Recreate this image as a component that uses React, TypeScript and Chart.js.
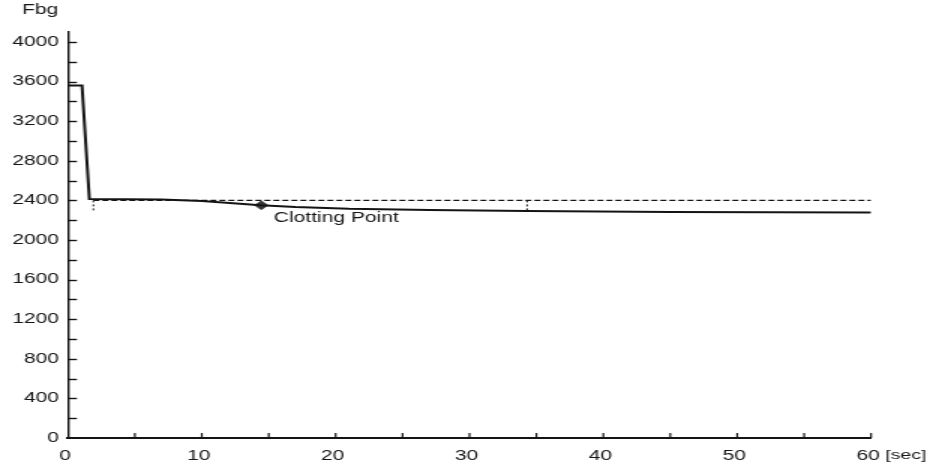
import { useEffect, useRef } from "react";
import { Chart, registerables } from "chart.js";

Chart.register(...registerables);

// Fibrinogen trace (sec, Fbg)
const traceTime = [0, 1.05, 1.6, 7, 10, 14.4, 17, 21, 27, 34.3, 45, 60];
const traceFbg = [3560, 3560, 2415, 2410, 2395, 2350, 2333, 2315, 2302, 2292, 2284, 2278];

// Dashed reference level and the two drop markers
const baselineFbg = 2400;
const baselineStart = 1.9;
const markerTimes = [1.9, 34.3];
const markerFloor = 2290;

// Clotting point
const clotTime = 14.45;
const clotFbg = 2350;
const clotLabel = "Clotting Point";

// Axes
const xMin = 0;
const xMax = 60;
const yMin = 0;
const yMax = 4100;
const xTickLabels = [0, 10, 20, 30, 40, 50, 60];
const yTickLabels = [0, 400, 800, 1200, 1600, 2000, 2400, 2800, 3200, 3600, 4000];
const xMinorStep = 5;
const yMinorStep = 200;
const yMinorTop = 4000;

const FONT = '"Liberation Sans", Arial, Helvetica, sans-serif';
const INK = "#141414";
const TEXT = "#161616";

// The drawing is laid out at 620px wide and shown 930px wide (wide lettering).
const DRAW_W = 620;
const DRAW_H = 467;
const SHOW_W = 930;

const decorations = {
  id: "decorations",
  afterDraw(chart: any) {
    const { ctx } = chart;
    const x = chart.scales.x;
    const y = chart.scales.y;
    ctx.save();
    ctx.strokeStyle = INK;

    // inward tick marks on the y axis
    ctx.lineWidth = 1.4;
    for (let v = yMinorStep; v <= yMinorTop; v += yMinorStep) {
      const py = Math.round(y.getPixelForValue(v)) + 0.5;
      ctx.beginPath();
      ctx.moveTo(x.left, py);
      ctx.lineTo(x.left + 6, py);
      ctx.stroke();
    }
    // inward tick marks on the x axis
    ctx.lineWidth = 1.2;
    for (let t = xMinorStep; t <= xMax; t += xMinorStep) {
      const px = x.getPixelForValue(t);
      ctx.beginPath();
      ctx.moveTo(px, y.bottom);
      ctx.lineTo(px, y.bottom - 5);
      ctx.stroke();
    }

    ctx.fillStyle = TEXT;
    ctx.textBaseline = "middle";
    ctx.textAlign = "left";

    // axis names
    ctx.font = `14px ${FONT}`;
    ctx.fillText("Fbg", 14.7, 10.5);
    ctx.font = `13px ${FONT}`;
    ctx.fillText("[sec]", x.right + 9.5, y.bottom + 17);

    // clotting point caption
    const cx = x.getPixelForValue(clotTime);
    const cy = y.getPixelForValue(clotFbg);
    ctx.font = `14px ${FONT}`;
    ctx.fillText(clotLabel, cx + 8.3, cy + 13);

    ctx.restore();
  },
};

export default function App() {
  const canvasRef = useRef<HTMLCanvasElement | null>(null);

  useEffect(() => {
    const canvas = canvasRef.current;
    if (!canvas) return;

    const trace = traceTime.map((t, i) => ({ x: t, y: traceFbg[i] }));
    const baseline = [
      { x: baselineStart, y: baselineFbg },
      { x: xMax, y: baselineFbg },
    ];
    const markerSets = markerTimes.map((t) => ({
      data: [
        { x: t, y: baselineFbg },
        { x: t, y: markerFloor },
      ],
      borderColor: INK,
      borderWidth: 1,
      borderDash: [2, 2],
      pointRadius: 0,
    }));

    const chart = new Chart(canvas, {
      type: "line",
      data: {
        datasets: [
          {
            data: baseline,
            borderColor: INK,
            borderWidth: 1.1,
            borderDash: [4, 2],
            pointRadius: 0,
          },
          ...markerSets,
          {
            data: trace,
            borderColor: INK,
            borderWidth: 2,
            pointRadius: 0,
            tension: 0,
          },
          {
            data: [{ x: clotTime, y: clotFbg }],
            showLine: false,
            pointStyle: "rectRot",
            pointRadius: 4.5,
            borderWidth: 0.6,
            backgroundColor: "#383838",
            borderColor: "#2a2a2a",
          },
        ] as any,
      },
      options: {
        animation: false,
        responsive: false,
        events: [],
        layout: { padding: { top: 32.1, right: 39.3, left: 0, bottom: 0 } },
        plugins: {
          legend: { display: false },
          tooltip: { enabled: false },
        },
        scales: {
          x: {
            type: "linear",
            min: xMin,
            max: xMax,
            grid: { display: false, drawTicks: false },
            border: { display: true, color: INK, width: 2 },
            ticks: {
              color: TEXT,
              font: { family: FONT, size: 14 },
              padding: 10,
              labelOffset: -2,
              maxRotation: 0,
              autoSkip: false,
              callback: (v: any) => String(v),
            },
            afterBuildTicks: (s: any) => {
              s.ticks = xTickLabels.map((v) => ({ value: v }));
            },
            afterFit: (s: any) => {
              s.height = 29;
            },
          },
          y: {
            type: "linear",
            min: yMin,
            max: yMax,
            grid: { display: false, drawTicks: false },
            border: { display: true, color: INK, width: 1.4 },
            ticks: {
              color: TEXT,
              font: { family: FONT, size: 14 },
              padding: 6,
              autoSkip: false,
              callback: (v: any) => String(v),
            },
            afterBuildTicks: (s: any) => {
              s.ticks = yTickLabels.map((v) => ({ value: v }));
            },
            afterFit: (s: any) => {
              s.width = 45.3;
            },
          },
        },
      },
      plugins: [decorations],
    });

    return () => chart.destroy();
  }, []);

  return (
    <div
      style={{
        position: "fixed",
        left: 0,
        top: 0,
        width: SHOW_W,
        height: DRAW_H,
        background: "#ffffff",
      }}
    >
      <canvas
        ref={canvasRef}
        width={DRAW_W}
        height={DRAW_H}
        style={{ width: `${SHOW_W}px`, height: `${DRAW_H}px`, display: "block" }}
      />
    </div>
  );
}
